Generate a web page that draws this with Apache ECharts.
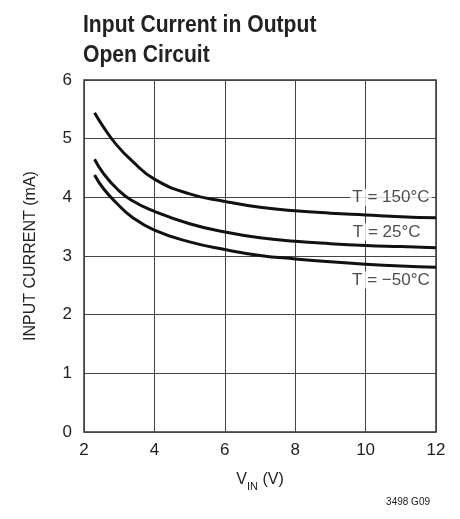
<!DOCTYPE html>
<html><head><meta charset="utf-8">
<script src="https://cdn.jsdelivr.net/npm/echarts@6/dist/echarts.min.js"></script>
<style>html,body{margin:0;padding:0;background:#fff}#c{width:460px;height:519px}</style>
</head><body><div id="c"></div>
<script>
const vin = [2.3, 2.55, 2.93, 3.35, 4, 5, 6, 7, 8, 9, 10, 11, 12];
const i150 = [5.44, 5.20, 4.89, 4.63, 4.31, 4.06, 3.93, 3.83, 3.77, 3.73, 3.70, 3.67, 3.65];
const i25 = [4.65, 4.41, 4.15, 3.95, 3.76, 3.55, 3.41, 3.31, 3.25, 3.21, 3.18, 3.16, 3.14];
const im50 = [4.38, 4.15, 3.90, 3.67, 3.44, 3.24, 3.11, 3.01, 2.95, 2.90, 2.86, 2.83, 2.81];
const labelText = ['T = 150°C', 'T = 25°C', 'T = \u221250°C'];
const labelPos = [[10.72, 4.0], [10.6, 3.41], [10.72, 2.59]];
const titleLines = ['Input Current in Output', 'Open Circuit'];

const font = '"Liberation Sans Narrow", "Liberation Sans", Arial, sans-serif';
const zip = ys => vin.map((x, i) => [x, ys[i]]);
const lineSeries = ys => ({
  type: 'line', data: zip(ys), smooth: 0.5, showSymbol: false,
  lineStyle: { color: '#111', width: 3 }, z: 3, silent: true
});

const chart = echarts.init(document.getElementById('c'));
chart.setOption({
  animation: false,
  grid: { left: 84, right: 24, top: 80, bottom: 87, show: true, borderColor: '#333', borderWidth: 1.5, backgroundColor: 'transparent' },
  xAxis: {
    type: 'value', min: 2, max: 12, interval: 2,
    axisLine: { show: false }, axisTick: { show: false },
    splitLine: { show: true, lineStyle: { color: '#444', width: 1 } },
    axisLabel: { fontFamily: font, fontSize: 17, color: '#222', margin: 10 },
    name: '{v|V}{s|IN}{v| (V)}', nameLocation: 'middle', nameGap: 40,
    nameTextStyle: { rich: {
      v: { fontFamily: font, fontSize: 16, color: '#222' },
      s: { fontFamily: font, fontSize: 11, color: '#222', verticalAlign: 'bottom', padding: [0, 0, -4, 0] }
    } }
  },
  yAxis: {
    type: 'value', min: 0, max: 6, interval: 1,
    axisLine: { show: false }, axisTick: { show: false },
    splitLine: { show: true, lineStyle: { color: '#444', width: 1 } },
    axisLabel: { fontFamily: font, fontSize: 17, color: '#222', margin: 12 },
    name: 'INPUT CURRENT (mA)', nameLocation: 'middle', nameGap: 45,
    nameTextStyle: { fontFamily: font, fontSize: 16, color: '#222' }
  },
  graphic: [
    {
      type: 'text', x: 83, y: 10, scaleX: 0.88, scaleY: 1,
      style: { text: titleLines.join('\n'), font: 'bold 24px ' + font, lineHeight: 30, fill: '#222' }
    },
    {
      type: 'text', right: 30, top: 497,
      style: { text: '3498 G09', font: '10px ' + font, fill: '#222' }
    }
  ],
  series: [
    lineSeries(i150), lineSeries(i25), lineSeries(im50),
    {
      type: 'scatter', symbolSize: 0, z: 5, silent: true,
      data: labelPos.map((p, i) => ({ value: p, name: labelText[i] })),
      label: {
        show: true, position: 'inside', formatter: p => p.name,
        fontFamily: font, fontSize: 17, color: '#222',
        backgroundColor: '#fff', padding: [0, 2]
      }
    }
  ]
});
</script></body></html>
